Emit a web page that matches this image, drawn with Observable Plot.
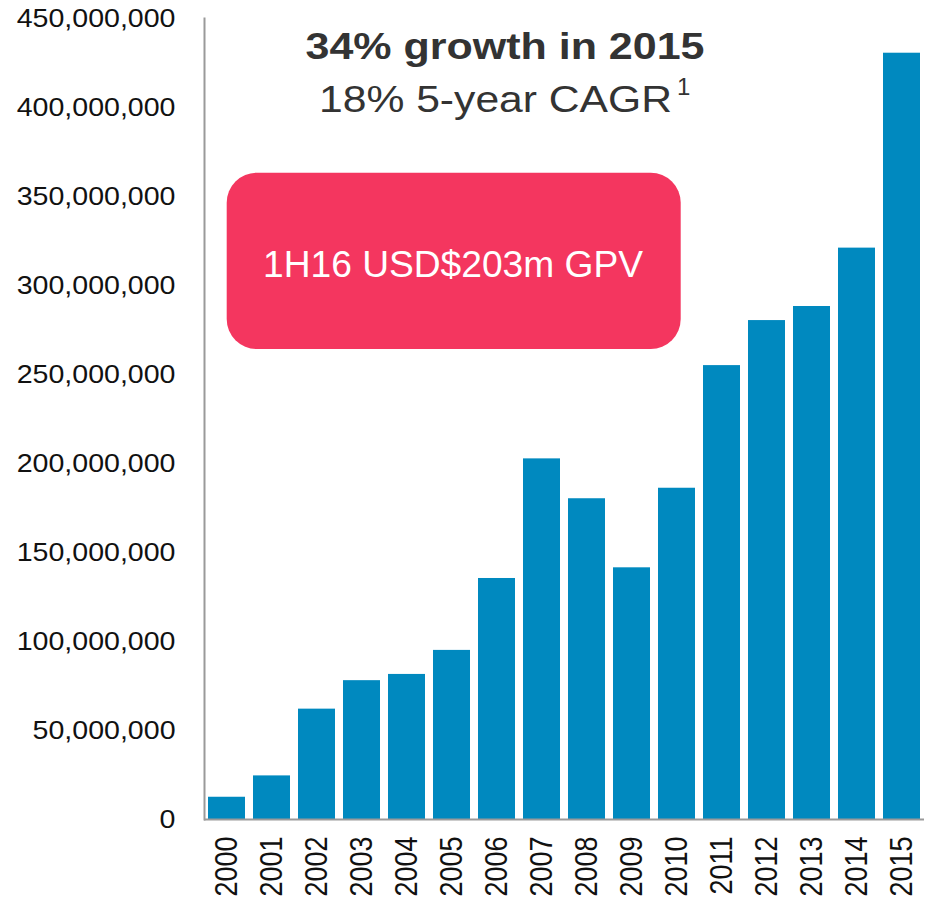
<!DOCTYPE html>
<html>
<head>
<meta charset="utf-8">
<script src="https://cdn.jsdelivr.net/npm/d3@7"></script>
<script src="https://cdn.jsdelivr.net/npm/@observablehq/plot@0.6"></script>
<style>
  html, body { margin: 0; padding: 0; background: #fff; }
  #chart { width: 928px; height: 899px; }
</style>
</head>
<body>
<div id="chart"></div>
<script>
// ---- data ----
const years = ["2000","2001","2002","2003","2004","2005","2006","2007","2008","2009","2010","2011","2012","2013","2014","2015"];
const gpv = [12.5e6, 24.5e6, 62e6, 78e6, 81.5e6, 95e6, 135.4e6, 202.6e6, 180.2e6, 141.4e6, 186.1e6, 255e6, 280.3e6, 288.2e6, 321e6, 430.5e6];
const yTicks = [0, 50e6, 100e6, 150e6, 200e6, 250e6, 300e6, 350e6, 400e6, 450e6];
const titleText = "34% growth in 2015";
const subtitleText = "18% 5-year CAGR";
const subtitleSup = "1";
const calloutText = "1H16 USD$203m GPV";

const data = years.map((y, i) => ({year: y, value: gpv[i]}));

const FONT = "'Liberation Sans', Arial, Helvetica, sans-serif";

const svg = Plot.plot({
  width: 928,
  height: 899,
  marginLeft: 204,
  marginRight: 4,
  marginTop: 18,
  marginBottom: 80,
  style: {fontFamily: FONT, fontSize: "25.5px", color: "#111", background: "#fff"},
  x: {type: "band", domain: years, paddingInner: 0.18, paddingOuter: 0.09},
  y: {domain: [0, 450e6]},
  marks: [
    Plot.barY(data, {x: "year", y: "value", fill: "#0089bf"}),
    Plot.frame({anchor: "left", stroke: "#9a9a9a", strokeWidth: 2}),
    Plot.ruleY([0], {stroke: "#9a9a9a", strokeWidth: 2}),
    Plot.axisY({ticks: yTicks, tickFormat: d3.format(","), tickSize: 0, tickPadding: 29, fontSize: 25.5, label: null}),
    Plot.axisX({tickRotate: -90, tickSize: 0, tickPadding: 17, fontSize: 27, label: null})
  ]
});

document.getElementById("chart").appendChild(svg);

// horizontally stretched y tick labels (as in the reference)
d3.select(svg).selectAll('g[aria-label="y-axis tick label"] text').each(function() {
  const w = this.getComputedTextLength();
  this.setAttribute("textLength", (w * 1.12).toFixed(1));
  this.setAttribute("lengthAdjust", "spacingAndGlyphs");
});
// the rotated x labels are widened across the text direction in the reference
d3.select(svg).selectAll('g[aria-label="x-axis tick label"] text').each(function() {
  const t = this.getAttribute("transform") || "";
  this.setAttribute("transform", t + " scale(1,1.14)");
});

// annotations
const g = d3.select(svg).append("g")
  .attr("font-family", FONT)
  .attr("text-anchor", "start");

g.append("text")
  .attr("x", 305.5).attr("y", 58.5)
  .attr("text-anchor", "start")
  .attr("font-size", 37).attr("font-weight", "bold").attr("fill", "#333")
  .attr("textLength", 399).attr("lengthAdjust", "spacingAndGlyphs")
  .text(titleText);

g.append("text")
  .attr("x", 319).attr("y", 111.5)
  .attr("text-anchor", "start")
  .attr("font-size", 36).attr("fill", "#333")
  .attr("textLength", 353).attr("lengthAdjust", "spacingAndGlyphs")
  .text(subtitleText);

g.append("text")
  .attr("x", 677).attr("y", 95)
  .attr("text-anchor", "start")
  .attr("font-size", 24).attr("fill", "#333")
  .text(subtitleSup);

g.append("rect")
  .attr("x", 226.7).attr("y", 172.7)
  .attr("width", 454).attr("height", 176.3)
  .attr("rx", 30).attr("ry", 30)
  .attr("fill", "#f4365f");

g.append("text")
  .attr("x", 263).attr("y", 276.7)
  .attr("text-anchor", "start")
  .attr("font-size", 36).attr("fill", "#fff")
  .attr("textLength", 380).attr("lengthAdjust", "spacingAndGlyphs")
  .text(calloutText);
</script>
</body>
</html>
